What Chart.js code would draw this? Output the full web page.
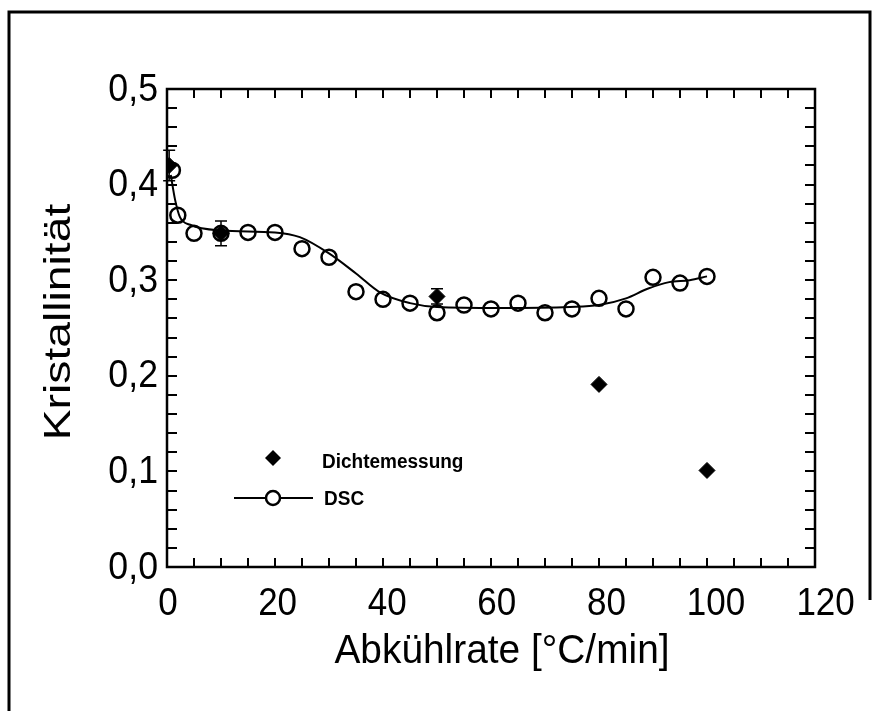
<!DOCTYPE html>
<html>
<head>
<meta charset="utf-8">
<script src="https://cdn.jsdelivr.net/npm/chart.js@4/dist/chart.umd.min.js"></script>
<style>
  html, body { margin: 0; padding: 0; background: #fff; }
  #wrap { width: 879px; height: 711px; position: relative; }
</style>
</head>
<body>
<div id="wrap"><canvas id="chart-canvas"></canvas></div>
<script>
//------------------------ DATA ----------------------------

// DSC measurements (open circles)
const dscX = [1, 2, 5, 10, 15, 20, 25, 30, 35, 40, 45, 50, 55, 60, 65, 70, 75, 80, 85, 90, 95, 100];
const dscY = [0.415, 0.368, 0.349, 0.349, 0.350, 0.350, 0.333, 0.324, 0.288, 0.280, 0.276, 0.266, 0.274, 0.270, 0.276, 0.266, 0.270, 0.281, 0.270, 0.303, 0.297, 0.304];

// density measurements (filled diamonds) with error bars
const densX = [0.4, 10, 50, 80, 100];
const densY = [0.420, 0.349, 0.283, 0.191, 0.101];
const densErr = [0.016, 0.013, 0.008, 0, 0];

// smooth fit through the DSC data
const fitX = [0.7, 1.5, 2.4, 4.3, 10, 20, 24.6, 30, 35, 39.5, 45, 50, 61.6, 74.6, 80, 85, 89, 93, 96.8, 100];
const fitY = [0.410, 0.384, 0.366, 0.358, 0.352, 0.350, 0.345, 0.328, 0.307, 0.287, 0.276, 0.272, 0.271, 0.272, 0.274, 0.281, 0.291, 0.298, 0.300, 0.304];

// axes
const xMin = 0, xMax = 120, xStep = 20, xMinor = 5;
const yMin = 0, yMax = 0.5, yStep = 0.1, yMinor = 0.02;
const xTitle = "Abkühlrate [°C/min]";
const yTitle = "Kristallinität";

const legendLabels = ["Dichtemessung", "DSC"];

//------------------------ PLUGINS ----------------------------

const fontFamily = "'Liberation Sans', Arial, sans-serif";

// draw text with a stretch (sx along the baseline, sy across it)
function stretchedText(ctx, text, x, y, sx, sy) {
  ctx.save();
  ctx.translate(x, y);
  ctx.scale(sx, sy);
  ctx.fillText(text, 0, 0);
  ctx.restore();
}

// box round the plot, inward ticks, error bars, labels, legend, outer frame
const decorPlugin = {
  id: "decor",
  beforeDatasetsDraw(chart) {
    const ctx = chart.ctx;
    const a = chart.chartArea;
    const xs = chart.scales.x;
    const ys = chart.scales.y;
    ctx.save();
    ctx.strokeStyle = "#000";

    // minor/major ticks, all inward
    ctx.lineWidth = 2;
    ctx.beginPath();
    for (let v = xMin; v <= xMax + 1e-9; v += xMinor) {
      const px = Math.round(xs.getPixelForValue(v));
      ctx.moveTo(px, a.bottom); ctx.lineTo(px, a.bottom - 9);
      ctx.moveTo(px, a.top); ctx.lineTo(px, a.top + 9);
    }
    for (let v = yMin; v <= yMax + 1e-9; v += yMinor) {
      const py = Math.round(ys.getPixelForValue(v));
      ctx.moveTo(a.left, py); ctx.lineTo(a.left + 10, py);
      ctx.moveTo(a.right, py); ctx.lineTo(a.right - 10, py);
    }
    ctx.stroke();

    // plot box
    ctx.lineWidth = 2.5;
    ctx.strokeRect(a.left, a.top, a.right - a.left, a.bottom - a.top);

    // outer frame
    ctx.lineWidth = 3;
    ctx.beginPath();
    ctx.moveTo(9, 711);
    ctx.lineTo(9, 12);
    ctx.lineTo(870, 12);
    ctx.lineTo(870, 600);
    ctx.stroke();

    // tick labels
    ctx.fillStyle = "#000";
    ctx.font = "35px " + fontFamily;
    ctx.textBaseline = "middle";
    ctx.textAlign = "center";
    xs.ticks.forEach((t) => {
      const px = xs.getPixelForValue(t.value) + 1 + t.value * 0.08;
      stretchedText(ctx, String(t.value), px, 604, 1.0, 1.1);
    });
    ctx.textAlign = "right";
    ys.ticks.forEach((t) => {
      const py = ys.getPixelForValue(t.value);
      stretchedText(ctx, t.value.toFixed(1).replace(".", ","), 158, py + 1, 1.02, 1.1);
    });

    // axis titles
    ctx.textAlign = "center";
    ctx.font = "37px " + fontFamily;
    stretchedText(ctx, xTitle, (a.left + a.right) / 2 + 11, 652, 1.05, 1.1);
    ctx.save();
    ctx.translate(60, (a.top + a.bottom) / 2 - 6);
    ctx.rotate(-Math.PI / 2);
    ctx.scale(1.25, 1);
    ctx.fillText(yTitle, 0, 0);
    ctx.restore();

    // error bars of the density points
    ctx.lineWidth = 1.5;
    densX.forEach((x, i) => {
      if (!densErr[i]) return;
      const px = xs.getPixelForValue(x);
      const y1 = ys.getPixelForValue(densY[i] + densErr[i]);
      const y2 = ys.getPixelForValue(densY[i] - densErr[i]);
      ctx.beginPath();
      ctx.moveTo(px, y1); ctx.lineTo(px, y2);
      ctx.moveTo(px - 6, y1); ctx.lineTo(px + 6, y1);
      ctx.moveTo(px - 6, y2); ctx.lineTo(px + 6, y2);
      ctx.stroke();
    });
    ctx.restore();
  },
  afterDraw(chart) {
    const ctx = chart.ctx;
    ctx.save();
    ctx.fillStyle = "#000";
    ctx.strokeStyle = "#000";

    // legend: diamond
    const dx = 273, dy = 458, r = 8;
    ctx.beginPath();
    ctx.moveTo(dx, dy - r); ctx.lineTo(dx + r, dy); ctx.lineTo(dx, dy + r); ctx.lineTo(dx - r, dy);
    ctx.closePath();
    ctx.fill();

    // legend: line with circle
    ctx.lineWidth = 2;
    ctx.beginPath();
    ctx.moveTo(234, 498); ctx.lineTo(313, 498);
    ctx.stroke();
    ctx.fillStyle = "#fff";
    ctx.lineWidth = 2.5;
    ctx.beginPath();
    ctx.arc(273, 498, 7, 0, Math.PI * 2);
    ctx.fill();
    ctx.stroke();

    ctx.fillStyle = "#000";
    ctx.font = "bold 19px " + fontFamily;
    ctx.textBaseline = "middle";
    stretchedText(ctx, legendLabels[0], 322, 462, 1.0, 1.1);
    stretchedText(ctx, legendLabels[1], 324, 499, 1.0, 1.1);
    ctx.restore();
  },
};

//------------------------ CHART ----------------------------

const toPts = (xs, ys) => xs.map((x, i) => ({ x: x, y: ys[i] }));

const ctx = document.getElementById("chart-canvas").getContext("2d");
const myChart = new Chart(ctx, {
  type: "scatter",
  data: {
    datasets: [
      {
        label: "fit",
        type: "line",
        data: toPts(fitX, fitY),
        borderColor: "#000",
        borderWidth: 2,
        pointRadius: 0,
        cubicInterpolationMode: "monotone",
        fill: false,
        order: 3,
      },
      {
        label: "DSC",
        data: toPts(dscX, dscY),
        pointStyle: "circle",
        pointRadius: 7.5,
        borderWidth: 2.5,
        borderColor: "#000",
        backgroundColor: "rgba(0,0,0,0)",
        order: 2,
      },
      {
        label: "Dichtemessung",
        data: toPts(densX, densY),
        pointStyle: "rectRot",
        pointRadius: 8,
        borderWidth: 1,
        borderColor: "#000",
        backgroundColor: "#000",
        order: 1,
      },
    ],
  },
  options: {
    responsive: true,
    maintainAspectRatio: false,
    animation: false,
    layout: {
      padding: { top: 89, right: 64, left: 0, bottom: 0 },
    },
    plugins: {
      legend: { display: false },
      tooltip: { enabled: false },
    },
    scales: {
      x: {
        type: "linear",
        min: xMin,
        max: xMax,
        grid: { display: false, drawTicks: false },
        border: { display: false },
        ticks: { stepSize: xStep, display: false },
        afterFit(scale) {
          scale.height = 711 - 567;
        },
      },
      y: {
        type: "linear",
        min: yMin,
        max: yMax,
        grid: { display: false, drawTicks: false },
        border: { display: false },
        ticks: { stepSize: yStep, display: false },
        afterFit(scale) {
          scale.width = 167;
        },
      },
    },
  },
  plugins: [decorPlugin],
});
</script>
</body>
</html>
